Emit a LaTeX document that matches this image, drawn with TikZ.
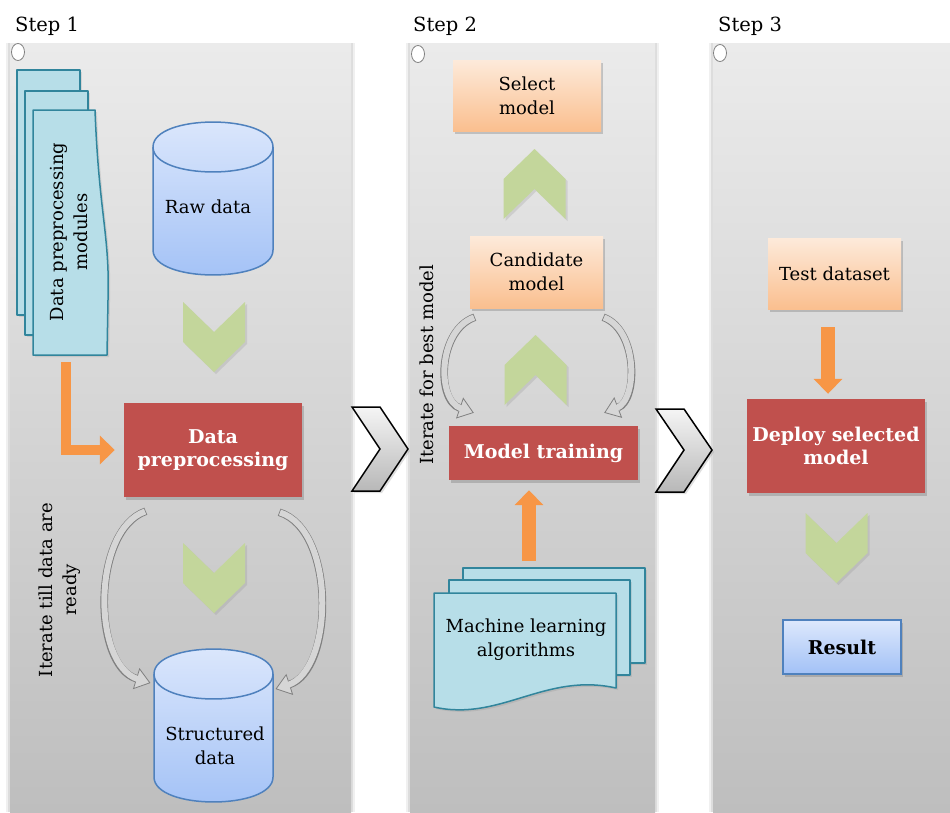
\documentclass[tikz,border=0pt]{standalone}
\usepackage{fontspec}
\setmainfont{DejaVu Serif}
\usetikzlibrary{arrows.meta,shadows,calc}

\definecolor{panelTop}{HTML}{EBEBEB}
\definecolor{panelBot}{HTML}{BEBEBE}
\definecolor{boxred}{HTML}{C0504D}
\definecolor{peachTop}{HTML}{FDEADA}
\definecolor{peachBot}{HTML}{FABF8F}
\definecolor{chevgreen}{HTML}{C3D69B}
\definecolor{orangeA}{HTML}{F79646}
\definecolor{sheetfill}{HTML}{B7DEE8}
\definecolor{sheetedge}{HTML}{31859C}
\definecolor{cylTop}{HTML}{DDE8FC}
\definecolor{cylBot}{HTML}{A2C1F6}
\definecolor{cyledge}{HTML}{4F81BD}
\definecolor{loopedge}{HTML}{808080}
\definecolor{loopfill}{HTML}{D6D6D6}

\begin{document}
\begin{tikzpicture}[x=1pt,y=-1pt,
  every node/.style={inner sep=0pt},
  lbl/.style={font=\fontsize{18}{24}\selectfont, align=center},
  steplbl/.style={font=\fontsize{19.5}{22}\selectfont, anchor=base west},
  panel/.style={top color=panelTop, bottom color=panelBot},
  softshadow/.style={drop shadow={opacity=0.3, shadow xshift=2pt, shadow yshift=-3pt, fill=black!60}},
  redbox/.style={rectangle, fill=boxred, font=\fontsize{19}{23}\selectfont\bfseries, text=white, align=center, softshadow},
  peachbox/.style={rectangle, top color=peachTop, bottom color=peachBot, lbl, softshadow},
  bluebox/.style={rectangle, top color=cylTop, bottom color=cylBot, draw=cyledge, line width=1.5pt, font=\fontsize{19}{22}\selectfont\bfseries, softshadow},
  sheet/.style={fill=sheetfill, draw=sheetedge, line width=1.5pt, line join=round, drop shadow={opacity=0.2, shadow xshift=2pt, shadow yshift=-2pt}},
  cyl/.style={top color=cylTop, bottom color=cylBot, draw=cyledge, line width=1.5pt},
  chev/.style={fill=chevgreen, drop shadow={opacity=0.2, shadow xshift=2pt, shadow yshift=-2pt}},
  bigchev/.style={top color=black!4, bottom color=black!28, draw=black, line width=1.5pt, line join=miter, drop shadow={opacity=0.25, shadow xshift=2pt, shadow yshift=-2pt}},
  feed/.style={draw=orangeA, line width=#1, -{Triangle[length=15pt, width=28pt]}},
  loopback/.style={draw=loopfill, line width=6pt, shorten <=0.8pt, shorten >=13pt,
    preaction={draw=loopedge, line width=7.6pt, shorten <=0pt, shorten >=0pt,
      -{Triangle[length=15pt, width=22pt, line width=0.8pt, fill=loopfill]}}},
  pics/chevdown/.style={code={\fill[chev] (-31,-35) -- (0,-5) -- (31,-35) -- (31,5) -- (0,35) -- (-31,5) -- cycle;}},
  pics/chevup/.style={code={\fill[chev] (-31,35) -- (0,5) -- (31,35) -- (31,-5) -- (0,-35) -- (-31,-5) -- cycle;}}
]
\useasboundingbox (0,0) rectangle (950,812);
\fill[white] (0,0) rectangle (950,812);

% ---- step headings ----
\node[steplbl] (s1) at (15,31) {Step 1};
\node[steplbl] (s2) at (413,31) {Step 2};
\node[steplbl] (s3) at (718,31) {Step 3};

% ---- column panels with soft edge shadow ----
\foreach \a/\b in {10/351, 410/655, 713/950}{
  \fill[black, opacity=0.06] (\a-4,43) rectangle (\b+4,812);
  \fill[black, opacity=0.08] (\a-2,43) rectangle (\b+2,812);
  \fill[panel] (\a,43) rectangle (\b,812);
}
\draw[fill=white, draw=loopedge, line width=0.8pt] (18,52) ellipse [x radius=6.5, y radius=8.5];
\draw[fill=white, draw=loopedge, line width=0.8pt] (418,54) ellipse [x radius=6.5, y radius=8.5];
\draw[fill=white, draw=loopedge, line width=0.8pt] (720,53) ellipse [x radius=6.5, y radius=8.5];

% ---- big chevrons between columns ----
\path[bigchev] (352,407) -- (380,407) -- (408,449) -- (380,491) -- (352,491) -- (380,449) -- cycle;
\path[bigchev] (656,409) -- (684,409) -- (712,450) -- (684,492) -- (656,492) -- (684,450) -- cycle;

% ================= Step 1 =================
% stacked module sheets
\path[sheet] (17,70) rectangle (80,315);
\path[sheet] (25,91) rectangle (88,335);
\path[sheet] (33,110) -- (95,110) .. controls (99,215) and (110,235) .. (108,300) -- (107,355) -- (33,355) -- cycle;
\node[lbl, rotate=90] (modules) at (69,232) {Data preprocessing\\modules};

% raw data store
\path[cyl] (153,147) -- (153,250) .. controls (153,283.3) and (273,283.3) .. (273,250)
  -- (273,147) .. controls (273,113.7) and (153,113.7) .. (153,147) -- cycle;
\draw[cyledge, line width=1.5pt] (153,147) .. controls (153,180.3) and (273,180.3) .. (273,147);
\node[lbl] (raw) at (208,207) {Raw data};

\pic at (214,337) {chevdown};

\node[redbox, minimum width=178pt, minimum height=94pt] (dp) at (213,450) {Data\\preprocessing};

\coordinate (modfoot) at (66,362);
\draw[feed=10pt, shorten >=9pt] (modfoot) |- (dp.west);

\pic at (214,578) {chevdown};

% structured data store
\coordinate (sdtop) at (213.5,649);
\path[cyl] (154,674) -- (154,777) .. controls (154,810.3) and (273,810.3) .. (273,777)
  -- (273,674) .. controls (273,640.7) and (154,640.7) .. (154,674) -- cycle;
\draw[cyledge, line width=1.5pt] (154,674) .. controls (154,707.3) and (273,707.3) .. (273,674);
\node[lbl] (sd) at (215,746) {Structured\\data};

\draw[loopback] ($(dp.south west)+(22,14)$) .. controls (92,530) and (92,665) .. ($(sdtop)+(-63,34)$);
\draw[loopback] ($(dp.south east)+(-23,15)$) .. controls (336,530) and (334,670) .. ($(sdtop)+(62,40)$);

\node[lbl, rotate=90] (iter1) at (60,590) {Iterate till data are\\ready};

% ================= Step 2 =================
\node[peachbox, minimum width=148pt, minimum height=71pt] (sel) at (527,95.5) {Select\\model};
\pic at (534.5,184) {chevup};
\node[peachbox, minimum width=133pt, minimum height=72pt] (cand) at (536.5,272) {Candidate\\model};
\pic at (535.5,370) {chevup};
\node[redbox, minimum width=189pt, minimum height=54pt] (mt) at (543.5,453) {Model training};

\draw[loopback] ($(cand.south west)+(5,9)$) .. controls (438,330) and (436,400) .. ($(mt.north west)+(25,-13)$);
\draw[loopback] ($(cand.south east)+(0,9)$) .. controls (638,330) and (638,400) .. ($(mt.north east)+(-34,-13)$);

\node[lbl, rotate=90] (iter2) at (427,365) {Iterate for best model};

% algorithm sheets
\path[sheet] (463,568) rectangle (645,663);
\path[sheet] (449,580) rectangle (630,675);
\path[sheet] (434,593) -- (616,593) -- (616,688) .. controls (545,672) and (500,722) .. (434,707) -- cycle;
\node[lbl] (mla) at (526,640) {Machine learning\\algorithms};

\coordinate (mlfoot) at (529,561);
\draw[feed=14pt, shorten >=10pt] (mlfoot) -- (mlfoot |- mt.south);

% ================= Step 3 =================
\node[peachbox, minimum width=133pt, minimum height=71pt] (test) at (834.5,273.5) {Test dataset};
\node[redbox, minimum width=178pt, minimum height=94pt] (deploy) at (836,446) {Deploy selected\\model};
\coordinate (tfoot) at ([xshift=-6.5pt]test.south);
\draw[feed=14pt, shorten <=18pt, shorten >=5pt] (tfoot) -- (tfoot |- deploy.north);

\pic at (836.5,548) {chevdown};

\node[bluebox, minimum width=118pt, minimum height=54pt] (res) at (842,647) {Result};
\end{tikzpicture}
\end{document}
